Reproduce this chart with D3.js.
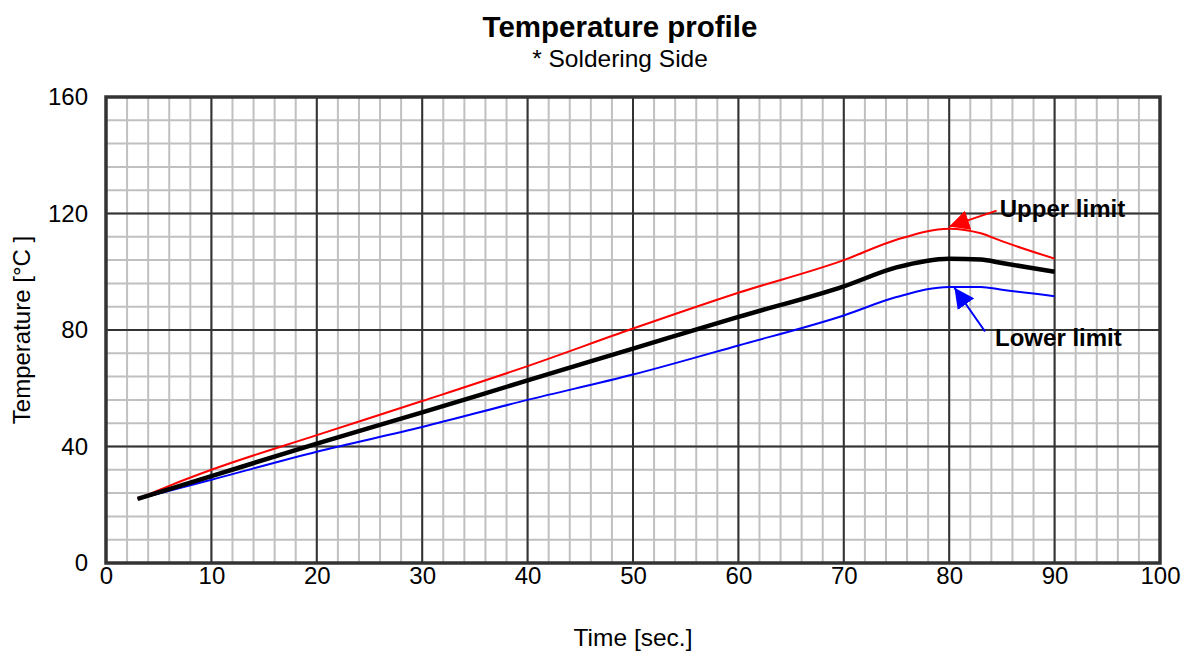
<!DOCTYPE html>
<html><head><meta charset="utf-8">
<script src="https://cdn.jsdelivr.net/npm/d3@7"></script>
<style>body{margin:0;background:#fff}svg{display:block}text{font-family:"Liberation Sans",Arial,sans-serif}</style>
</head><body><svg id="c" width="1190" height="654"></svg>
<script>
const xTicks = [0,10,20,30,40,50,60,70,80,90,100];
const yTicks = [0,40,80,120,160];
const timeNominal = [3,10,20,30,40,50,60,70,75,80,83,85,90];
const tempNominal = [22,29.8,41,51.7,62.7,73.6,84.5,95,101.5,104.5,104.2,103,100];
const timeUpper = [3,6,10,20,30,40,50,60,70,75,80,83,85,90];
const tempUpper = [22,26.5,32,43.9,55.6,67.6,80.5,92.8,104,111,114.8,113.2,110.5,104.5];
const timeLower = [3,10,20,30,40,50,60,70,75,80,83,85,90];
const tempLower = [22,28.6,38.2,46.7,56,64.7,74.7,85,91.3,94.8,94.8,93.8,91.6];

const svg = d3.select("#c");
const L=106,R=1160,T=97,B=563;
const x = d3.scaleLinear().domain([0,100]).range([L,R]);
const y = d3.scaleLinear().domain([0,160]).range([B,T]);
const FF = "Liberation Sans, Arial, sans-serif";

// minor grid
const g = svg.append("g");
g.selectAll(".mx").data(d3.range(0,101,2)).join("line")
 .attr("x1",d=>x(d)).attr("x2",d=>x(d)).attr("y1",T).attr("y2",B)
 .attr("stroke","#c0c0c0").attr("stroke-width",2);
g.selectAll(".my").data(d3.range(0,161,8)).join("line")
 .attr("y1",d=>y(d)).attr("y2",d=>y(d)).attr("x1",L).attr("x2",R)
 .attr("stroke","#c0c0c0").attr("stroke-width",2);
// major grid
g.selectAll(".Mx").data(xTicks).join("line")
 .attr("x1",d=>x(d)).attr("x2",d=>x(d)).attr("y1",T).attr("y2",B)
 .attr("stroke","#333").attr("stroke-width",2);
g.selectAll(".My").data(yTicks).join("line")
 .attr("y1",d=>y(d)).attr("y2",d=>y(d)).attr("x1",L).attr("x2",R)
 .attr("stroke","#333").attr("stroke-width",2);

// axes
const xa = svg.append("g").attr("transform",`translate(0,${B})`)
 .call(d3.axisBottom(x).tickValues(xTicks).tickSize(0).tickPadding(4));
xa.select(".domain").remove();
xa.selectAll("text").attr("font-size",24).attr("fill","#000").style("font-family",FF);
const ya = svg.append("g").attr("transform",`translate(${L},0)`)
 .call(d3.axisLeft(y).tickValues(yTicks).tickSize(0).tickPadding(18));
ya.select(".domain").remove();
ya.selectAll("text").attr("font-size",24).attr("fill","#000").style("font-family",FF);

// frame
svg.append("rect").attr("x",L).attr("y",T).attr("width",R-L).attr("height",B-T)
 .attr("fill","none").attr("stroke","#333").attr("stroke-width",3.5);

// lines
const line = d3.line().curve(d3.curveMonotoneX).x(d=>x(d[0])).y(d=>y(d[1]));
const mk = (t,v)=>t.map((d,i)=>[d,v[i]]);
svg.append("path").attr("d",line(mk(timeLower,tempLower))).attr("fill","none").attr("stroke","#0000ff").attr("stroke-width",2);
svg.append("path").attr("d",line(mk(timeUpper,tempUpper))).attr("fill","none").attr("stroke","#ff0000").attr("stroke-width",2);
svg.append("path").attr("d",line(mk(timeNominal,tempNominal))).attr("fill","none").attr("stroke","#000").attr("stroke-width",4.5);

// arrows
const defs = svg.append("defs");
function marker(id,color){
 defs.append("marker").attr("id",id).attr("viewBox","0 0 10 10").attr("refX",10).attr("refY",5)
  .attr("markerWidth",20).attr("markerHeight",20).attr("markerUnits","userSpaceOnUse").attr("orient","auto")
  .append("path").attr("d","M0,0 L10,5 L0,10 z").attr("fill",color);
}
marker("ar","#ff0000"); marker("ab","#0000ff");
svg.append("line").attr("x1",x(84.5)).attr("y1",y(121)).attr("x2",x(80.0)).attr("y2",y(115.5))
 .attr("stroke","#ff0000").attr("stroke-width",2).attr("marker-end","url(#ar)");
svg.append("line").attr("x1",x(83.4)).attr("y1",y(79.5)).attr("x2",x(80.5)).attr("y2",y(94.5))
 .attr("stroke","#0000ff").attr("stroke-width",2).attr("marker-end","url(#ab)");
svg.append("text").attr("x",x(84.8)).attr("y",y(118.8)).attr("font-size",24).attr("font-weight","bold").text("Upper limit");
svg.append("text").attr("x",x(84.35)).attr("y",y(74.5)).attr("font-size",24).attr("font-weight","bold").text("Lower limit");

// titles
svg.append("text").attr("x",620).attr("y",37).attr("text-anchor","middle").attr("font-size",29.5).attr("font-weight","bold").text("Temperature profile");
svg.append("text").attr("x",620).attr("y",67).attr("text-anchor","middle").attr("font-size",24.5).text("* Soldering Side");
svg.append("text").attr("x",633).attr("y",646).attr("text-anchor","middle").attr("font-size",24.5).text("Time [sec.]");
svg.append("text").attr("transform","translate(30,330) rotate(-90)").attr("text-anchor","middle").attr("font-size",24).text("Temperature [°C ]");
</script></body></html>
